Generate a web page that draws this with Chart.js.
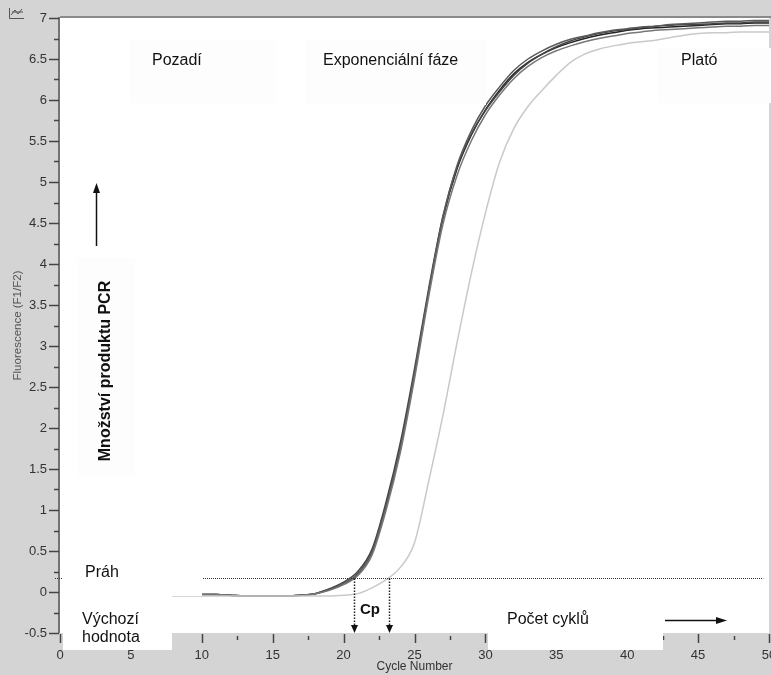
<!DOCTYPE html>
<html>
<head>
<meta charset="utf-8">
<script src="https://cdn.jsdelivr.net/npm/chart.js@4.4.0/dist/chart.umd.min.js"></script>
<style>
  html, body { margin: 0; padding: 0; background: #d4d4d4; }
</style>
</head>
<body>
<canvas id="chart" width="771" height="675"></canvas>
<script>
// cycle numbers 1..50
var cycles = [1, 2, 3, 4, 5, 6, 7, 8, 9, 10, 11, 12, 13, 14, 15, 16, 17, 18, 19, 20,
  21, 22, 23, 24, 25, 26, 27, 28, 29, 30, 31, 32, 33, 34, 35, 36, 37, 38, 39, 40,
  41, 42, 43, 44, 45, 46, 47, 48, 49, 50];

// fluorescence F1/F2 per cycle - four early samples
var sampleA = [-0.03, -0.03, -0.03, -0.03, -0.03, -0.03, -0.03, -0.03, -0.03, -0.03,
  -0.03, -0.04, -0.05, -0.05, -0.05, -0.05, -0.04, -0.02, 0.03, 0.10,
  0.22, 0.48, 1.05, 1.75, 2.65, 3.65, 4.55, 5.16, 5.57, 5.88,
  6.12, 6.32, 6.46, 6.56, 6.64, 6.70, 6.75, 6.79, 6.82, 6.85,
  6.87, 6.88, 6.89, 6.90, 6.91, 6.92, 6.93, 6.93, 6.94, 6.94];
var sampleB = [-0.03, -0.03, -0.03, -0.03, -0.03, -0.03, -0.03, -0.03, -0.03, -0.03,
  -0.03, -0.04, -0.05, -0.05, -0.05, -0.05, -0.04, -0.02, 0.03, 0.10,
  0.22, 0.48, 1.05, 1.76, 2.67, 3.67, 4.57, 5.20, 5.62, 5.93,
  6.16, 6.36, 6.50, 6.60, 6.68, 6.74, 6.78, 6.82, 6.85, 6.87,
  6.89, 6.90, 6.92, 6.93, 6.94, 6.95, 6.96, 6.96, 6.97, 6.97];
var sampleC = [-0.03, -0.03, -0.03, -0.03, -0.03, -0.03, -0.03, -0.03, -0.03, -0.03,
  -0.03, -0.04, -0.05, -0.05, -0.05, -0.05, -0.04, -0.02, 0.02, 0.09,
  0.20, 0.45, 1.00, 1.70, 2.60, 3.60, 4.48, 5.08, 5.50, 5.82,
  6.06, 6.26, 6.41, 6.52, 6.60, 6.66, 6.71, 6.75, 6.78, 6.81,
  6.83, 6.85, 6.86, 6.87, 6.88, 6.89, 6.90, 6.90, 6.91, 6.91];
var sampleD = [-0.03, -0.03, -0.03, -0.03, -0.03, -0.03, -0.03, -0.03, -0.03, -0.03,
  -0.03, -0.04, -0.05, -0.05, -0.05, -0.05, -0.04, -0.02, 0.04, 0.12,
  0.25, 0.52, 1.10, 1.82, 2.72, 3.70, 4.58, 5.18, 5.58, 5.87,
  6.10, 6.30, 6.45, 6.56, 6.65, 6.72, 6.77, 6.81, 6.84, 6.86,
  6.88, 6.90, 6.91, 6.92, 6.92, 6.93, 6.94, 6.94, 6.95, 6.95];
// later sample (light curve)
var sampleE = [-0.05, -0.05, -0.05, -0.05, -0.05, -0.05, -0.05, -0.05, -0.05, -0.05,
  -0.05, -0.05, -0.05, -0.05, -0.05, -0.05, -0.05, -0.05, -0.05, -0.04,
  -0.02, 0.05, 0.15, 0.30, 0.60, 1.35, 2.15, 3.04, 3.88, 4.62,
  5.24, 5.65, 5.92, 6.12, 6.30, 6.46, 6.56, 6.62, 6.66, 6.69,
  6.71, 6.73, 6.76, 6.79, 6.81, 6.82, 6.82, 6.83, 6.83, 6.83];

var threshold = 0.17;         // fluorescence threshold (Práh)
var cpCycles = [20.7, 23.2];  // crossing points
var yTicks = [-0.5, 0, 0.5, 1, 1.5, 2, 2.5, 3, 3.5, 4, 4.5, 5, 5.5, 6, 6.5, 7];
var xTicks = [0, 5, 10, 15, 20, 25, 30, 35, 40, 45, 50];

var FONT = "'Liberation Sans', Arial, sans-serif";

function toPoints(values) {
  return cycles.map(function (c, i) { return { x: c, y: values[i] }; });
}

function arrowHead(c, x, y, dir, len, half) {
  c.beginPath();
  if (dir === 'down') { c.moveTo(x, y); c.lineTo(x - half, y - len); c.lineTo(x + half, y - len); }
  if (dir === 'up') { c.moveTo(x, y); c.lineTo(x - half, y + len); c.lineTo(x + half, y + len); }
  if (dir === 'right') { c.moveTo(x, y); c.lineTo(x - len, y - half); c.lineTo(x - len, y + half); }
  c.closePath();
  c.fill();
}

var pcrDecor = {
  id: 'pcrDecor',
  beforeDraw: function (chart) {
    var c = chart.ctx, a = chart.chartArea;
    c.save();
    c.fillStyle = '#d4d4d4';
    c.fillRect(0, 0, chart.width, chart.height);
    c.fillStyle = '#ffffff';
    c.fillRect(a.left, a.top, a.right - a.left, a.bottom - a.top);
    c.restore();
  },
  afterDatasetsDraw: function (chart) {
    var c = chart.ctx, a = chart.chartArea;
    var xs = chart.scales.x, ys = chart.scales.y;
    var ty = Math.round(ys.getPixelForValue(threshold)) + 0.5;
    c.save();

    // frame: top border and left axis
    c.strokeStyle = '#8a8a8a';
    c.lineWidth = 2;
    c.beginPath();
    c.moveTo(a.left, a.top - 1);
    c.lineTo(chart.width, a.top - 1);
    c.stroke();
    c.strokeStyle = '#555';
    c.lineWidth = 1.5;
    c.beginPath();
    c.moveTo(a.left - 1, a.top - 1);
    c.lineTo(a.left - 1, a.bottom);
    c.stroke();

    // tick marks, major and minor
    c.strokeStyle = '#444';
    c.lineWidth = 1.5;
    c.beginPath();
    yTicks.forEach(function (v) {
      var py = Math.round(ys.getPixelForValue(v)) + 0.5;
      c.moveTo(a.left - 11, py);
      c.lineTo(a.left - 1, py);
      if (v < 7) {
        var pm = Math.round(ys.getPixelForValue(v + 0.25)) + 0.5;
        c.moveTo(a.left - 6, pm);
        c.lineTo(a.left - 1, pm);
      }
    });
    xTicks.forEach(function (v) {
      var px = Math.round(xs.getPixelForValue(v)) + 0.5;
      c.moveTo(px, a.bottom + 1);
      c.lineTo(px, a.bottom + 10);
      if (v < 50) {
        var pm = Math.round(xs.getPixelForValue(v + 2.5)) + 0.5;
        c.moveTo(pm, a.bottom + 3);
        c.lineTo(pm, a.bottom + 7);
      }
    });
    c.stroke();

    // threshold line
    c.strokeStyle = '#333';
    c.lineWidth = 1;
    c.setLineDash([1, 1]);
    c.beginPath();
    c.moveTo(a.left - 5, ty);
    c.lineTo(xs.getPixelForValue(49.6), ty);
    c.stroke();

    // Cp drop lines
    c.lineWidth = 1.5;
    c.strokeStyle = '#222';
    c.fillStyle = '#111';
    cpCycles.forEach(function (cp) {
      var px = Math.round(xs.getPixelForValue(cp)) + 0.5;
      c.setLineDash([1.5, 1.5]);
      c.beginPath();
      c.moveTo(px, ty);
      c.lineTo(px, a.bottom - 6);
      c.stroke();
      c.setLineDash([]);
      arrowHead(c, px, a.bottom, 'down', 8, 3.5);
    });
    c.setLineDash([]);

    // label boxes
    var boxes = [
      [130, 40, 146, 63, '#fdfdfd'],
      [305, 40, 181, 65, '#fdfdfd'],
      [658, 48, 113, 55, '#fdfdfd'],
      [77, 258, 58, 217, '#fdfdfd'],
      [62, 552, 140, 44, '#ffffff'],
      [63, 596, 109, 54, '#ffffff'],
      [488, 598, 175, 52, '#ffffff']
    ];
    boxes.forEach(function (b) {
      c.fillStyle = b[4];
      c.fillRect(b[0], b[1], b[2], b[3]);
    });

    // texts
    c.fillStyle = '#111';
    c.textBaseline = 'middle';
    c.textAlign = 'left';
    c.font = '16px ' + FONT;
    c.fillText('Pozadí', 152, 61);
    c.fillText('Exponenciální fáze', 323, 61);
    c.fillText('Plató', 681, 61);
    c.fillText('Práh', 85, 573);
    c.fillText('Výchozí', 82, 620);
    c.fillText('hodnota', 82, 638);
    c.fillText('Počet cyklů', 507, 620);
    c.font = 'bold 15px ' + FONT;
    c.fillText('Cp', 360, 610);

    c.save();
    c.translate(106, 371);
    c.rotate(-Math.PI / 2);
    c.textAlign = 'center';
    c.font = 'bold 16px ' + FONT;
    c.fillText('Množství produktu PCR', 0, 0);
    c.restore();

    // arrows
    c.strokeStyle = '#111';
    c.lineWidth = 1.5;
    c.beginPath();
    c.moveTo(96.5, 246);
    c.lineTo(96.5, 192);
    c.stroke();
    arrowHead(c, 96.5, 183, 'up', 10, 3.5);
    c.beginPath();
    c.moveTo(665, 620.5);
    c.lineTo(717, 620.5);
    c.stroke();
    arrowHead(c, 727, 620.5, 'right', 11, 3.5);

    // small chart icon in the corner
    c.strokeStyle = '#555';
    c.lineWidth = 1;
    c.beginPath();
    c.moveTo(9.5, 8); c.lineTo(9.5, 18.5); c.lineTo(24, 18.5);
    c.moveTo(11, 15); c.lineTo(15, 10); c.lineTo(18, 14); c.lineTo(22, 9);
    c.moveTo(12, 12); c.lineTo(23, 12);
    c.stroke();

    c.restore();
  }
};

function series(values, color, width) {
  return {
    data: toPoints(values),
    borderColor: color,
    borderWidth: width,
    pointRadius: 0,
    cubicInterpolationMode: 'monotone',
    fill: false
  };
}

var ctx = document.getElementById('chart').getContext('2d');

new Chart(ctx, {
  type: 'line',
  data: {
    datasets: [
      series(sampleE, '#c9c9c9', 1.5),
      series(sampleC, '#777777', 1.5),
      series(sampleB, '#5a5a5a', 1.5),
      series(sampleD, '#444444', 1.5),
      series(sampleA, '#222222', 1.5)
    ]
  },
  plugins: [pcrDecor],
  options: {
    responsive: false,
    animation: false,
    layout: { padding: { top: 18, right: 2, left: 0, bottom: 0 } },
    plugins: {
      legend: { display: false },
      tooltip: { enabled: false }
    },
    scales: {
      x: {
        type: 'linear',
        min: 0,
        max: 50,
        afterFit: function (scale) {
          scale.height = 42;
          scale.paddingLeft = 0;
          scale.paddingRight = 0;
        },
        afterBuildTicks: function (scale) {
          scale.ticks = xTicks.map(function (v) { return { value: v }; });
        },
        grid: { display: false, drawTicks: false },
        border: { display: false },
        ticks: {
          padding: 15,
          color: '#333',
          font: { family: FONT, size: 13 },
          maxRotation: 0,
          autoSkip: false,
          callback: function (v) { return String(v); }
        },
        title: {
          display: true,
          text: 'Cycle Number',
          color: '#333',
          font: { family: FONT, size: 12 },
          padding: { top: 0, bottom: 1 }
        }
      },
      y: {
        type: 'linear',
        min: -0.5,
        max: 7,
        afterFit: function (scale) {
          scale.width = 60;
          scale.paddingTop = 0;
          scale.paddingBottom = 0;
        },
        afterBuildTicks: function (scale) {
          scale.ticks = yTicks.map(function (v) { return { value: v }; });
        },
        grid: { display: false, drawTicks: false },
        border: { display: false },
        ticks: {
          padding: 13,
          color: '#333',
          font: { family: FONT, size: 13 },
          autoSkip: false,
          callback: function (v) { return String(v); }
        },
        title: {
          display: true,
          text: 'Fluorescence (F1/F2)',
          color: '#555',
          font: { family: FONT, size: 11.5 },
          padding: { top: 11, bottom: 0 }
        }
      }
    }
  }
});
</script>
</body>
</html>
